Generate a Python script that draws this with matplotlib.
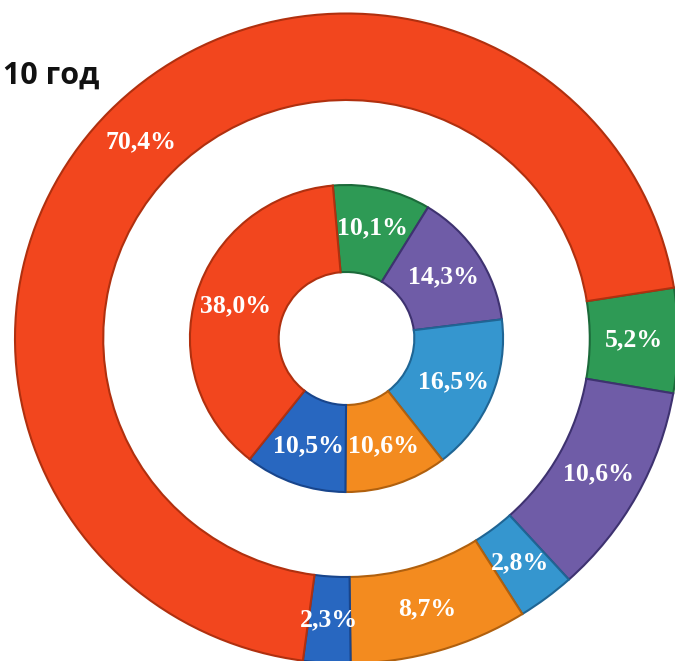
import matplotlib
matplotlib.use("Agg")
import matplotlib.pyplot as plt

title = "10 год"
categories = ["A", "B", "C", "D", "E", "F"]  # red, green, purple, light blue, orange, dark blue
outer_values = [70.4, 5.2, 10.6, 2.8, 8.7, 2.3]
outer_labels = ["70,4%", "5,2%", "10,6%", "2,8%", "8,7%", "2,3%"]
inner_values = [38.0, 10.1, 14.3, 16.5, 10.6, 10.5]
inner_labels = ["38,0%", "10,1%", "14,3%", "16,5%", "10,6%", "10,5%"]
colors = ["#F2461E", "#2E9A55", "#6F5CA7", "#3596CF", "#F38B1F", "#2867C0"]
edges = ["#B0300F", "#1C6A3A", "#3E3270", "#1F6594", "#B0600E", "#18458C"]

W, H = 675, 661
SX = 1.02  # horizontal stretch of the reference
fig = plt.figure(figsize=(W / 100, H / 100), dpi=100)
ax = fig.add_axes([0, 0, 1, 1])

cx, cy = 346.5 / SX, H - 338.5
R_out, w_out = 325, 86.5
R_in, w_in = 153.5, 87

# clockwise drawing order: green, purple, light blue, orange, dark blue, red
order = [1, 2, 3, 4, 5, 0]

def ring(values, labels, radius, width, start, dist):
    vals = [values[i] for i in order]
    labs = [labels[i] for i in order]
    cols = [colors[i] for i in order]
    eds = [edges[i] for i in order]
    wedges, texts = ax.pie(vals, radius=radius, center=(cx, cy), startangle=start,
                           counterclock=False, colors=cols, labels=labs,
                           labeldistance=dist,
                           wedgeprops=dict(width=width, linewidth=1.5),
                           textprops=dict(color="white", fontsize=18.5, fontweight="bold",
                                          family="Liberation Serif", ha="center", va="center"))
    for wd, ec in zip(wedges, eds):
        wd.set_edgecolor(ec)
    return wedges, texts

ring(outer_values, outer_labels, R_out, w_out, 9, 0.866)
ring(inner_values, inner_labels, R_in, w_in, 95, 0.74)

ax.set_aspect("auto")
ax.set_xlim(0, W / SX)
ax.set_ylim(0, H)
ax.axis("off")

fig.text(3 / W, 1 - 76 / H, title, fontsize=22, fontweight="bold", family="Open Sans",
         color="#111111", ha="left", va="center")

fig.savefig("out.png", dpi=100)
